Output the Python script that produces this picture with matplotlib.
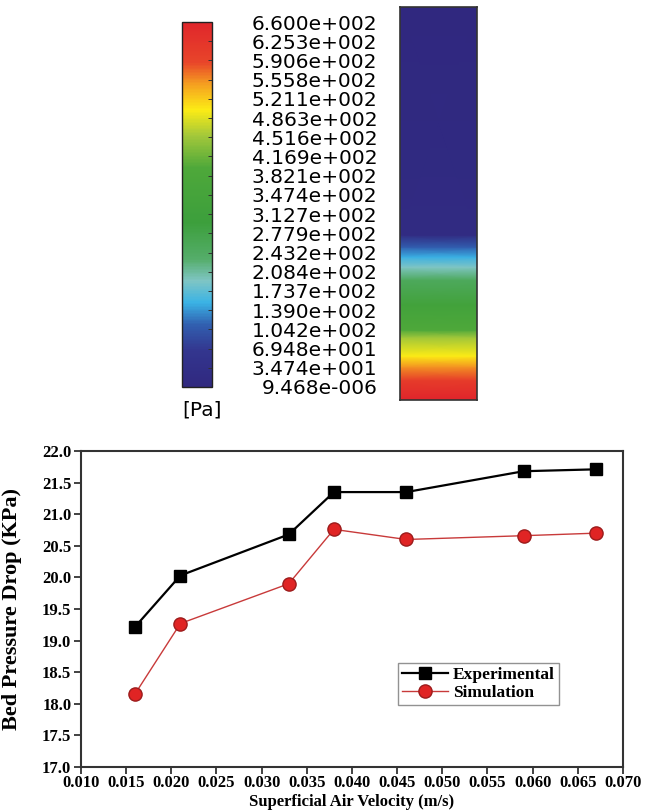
import numpy as np
import matplotlib
matplotlib.use("Agg")
import matplotlib.pyplot as plt
from matplotlib.colors import LinearSegmentedColormap, Normalize
from matplotlib.cm import ScalarMappable

# === Contour legend (Pa) ===
contour_labels = ["6.600e+002", "6.253e+002", "5.906e+002", "5.558e+002", "5.211e+002",
                  "4.863e+002", "4.516e+002", "4.169e+002", "3.821e+002", "3.474e+002",
                  "3.127e+002", "2.779e+002", "2.432e+002", "2.084e+002", "1.737e+002",
                  "1.390e+002", "1.042e+002", "6.948e+001", "3.474e+001", "9.468e-006"]

# === Pressure along the bed column (height fraction from bottom, Pa) ===
bed_height = [0.0, 0.005, 0.05, 0.084, 0.112, 0.16, 0.178, 0.242, 0.305, 0.338, 0.364, 0.389, 0.42, 1.0]
bed_pressure = [660, 660, 607, 554, 502, 449, 396, 330, 251, 191, 152, 110, 15, 0]

# === Bed pressure drop vs velocity ===
velocity = [0.016, 0.021, 0.033, 0.038, 0.046, 0.059, 0.067]
exp_drop = [19.22, 20.03, 20.68, 21.35, 21.35, 21.68, 21.71]
sim_drop = [18.16, 19.27, 19.90, 20.76, 20.60, 20.66, 20.70]

W, H = 656, 811
fig = plt.figure(figsize=(W / 100, H / 100), dpi=100)


def px_axes(x0, y0, x1, y1):
    # pixel box (top-left origin) -> figure axes
    return fig.add_axes([x0 / W, 1 - y1 / H, (x1 - x0) / W, (y1 - y0) / H])


# CFD-like rainbow map
stops = [(0.00, "#30287f"), (0.10, "#33368f"), (0.17, "#3160b0"), (0.23, "#3ab3e5"),
         (0.29, "#7fc5c4"), (0.35, "#55ad6a"), (0.45, "#3c9f3c"), (0.60, "#4ea83a"),
         (0.69, "#a4c83a"), (0.76, "#fcec15"), (0.83, "#f5a020"), (0.89, "#e8452a"),
         (1.00, "#e0262b")]
cmap = LinearSegmentedColormap.from_list("cfd", stops)
norm = Normalize(0, 660)

# --- colour bar ---
cax = px_axes(182, 22, 212, 387)
cb = fig.colorbar(ScalarMappable(norm=norm, cmap=cmap), cax=cax)
ticks = [float(s) for s in contour_labels]
cb.set_ticks(ticks, labels=contour_labels)
cb.outline.set_edgecolor("#222222")
cb.outline.set_linewidth(1.0)
cax.tick_params(direction="in", length=3, width=0.7, color="#333333",
                pad=119, labelsize=14.5)
for t in cax.get_yticklabels():
    t.set_horizontalalignment("right")
fig.text(182 / W, 1 - 410 / H, "[Pa]", fontsize=14.5, ha="left", va="center")

# --- pressure column ---
colax = px_axes(400, 7, 477, 400)
hh = np.array(bed_height)
pp = np.array(bed_pressure, dtype=float)
X, Y = np.meshgrid([0, 1], hh)
C = np.column_stack([pp, pp])
colax.pcolormesh(X, Y, C, cmap=cmap, norm=norm, shading="gouraud")
colax.set_xlim(0, 1)
colax.set_ylim(0, 1)
colax.set_xticks([])
colax.set_yticks([])
for s in colax.spines.values():
    s.set_edgecolor("#333333")
    s.set_linewidth(1.2)

# --- line chart ---
serif = "Liberation Serif"
top_px, bot_px = 451, 767
ax = px_axes(81, top_px, 623, bot_px)
ax.plot(velocity, exp_drop, color="black", lw=1.6, marker="s", ms=9,
        mfc="black", mec="black", label="Experimental")
ax.plot(velocity, sim_drop, color="#c83a3a", lw=1.0, marker="o", ms=9.5,
        mfc="#e02424", mec="#9c1c1c", mew=1.0, label="Simulation")

ax.set_xlim(0.010, 0.070)
ax.set_ylim(17.0, 22.0)
ax.set_xticks(np.arange(0.010, 0.0701, 0.005))
ax.set_yticks(np.arange(17.0, 22.01, 0.5))
ax.xaxis.set_major_formatter(plt.FormatStrFormatter("%.3f"))
ax.yaxis.set_major_formatter(plt.FormatStrFormatter("%.1f"))
ax.tick_params(direction="out", length=5, width=1.3, color="#333333",
               labelsize=12, labelfontfamily=serif)
ax.tick_params(axis="x", pad=1)
ax.tick_params(axis="y", pad=2)
for lab in ax.get_xticklabels() + ax.get_yticklabels():
    lab.set_fontweight("bold")
for s in ax.spines.values():
    s.set_linewidth(1.5)
    s.set_edgecolor("#333333")

ax.set_xlabel("Superficial Air Velocity (m/s)", fontfamily=serif, fontweight="bold",
              fontsize=12, va="bottom")
ax.xaxis.set_label_coords(0.5, -(810 - bot_px) / (bot_px - top_px))
ax.set_ylabel("Bed Pressure Drop (KPa)", fontfamily=serif, fontweight="bold",
              fontsize=16)
ax.yaxis.set_label_coords(-0.108, 0.5)

leg = ax.legend(loc="upper left", bbox_to_anchor=(0.585, 0.33), fancybox=False,
                edgecolor="#777777", handlelength=2.6, handletextpad=0.3,
                borderpad=0.25, labelspacing=0.1, borderaxespad=0,
                prop={"family": serif, "weight": "bold", "size": 12.5})
leg.get_frame().set_linewidth(1.0)

fig.savefig("out.png", dpi=100)
